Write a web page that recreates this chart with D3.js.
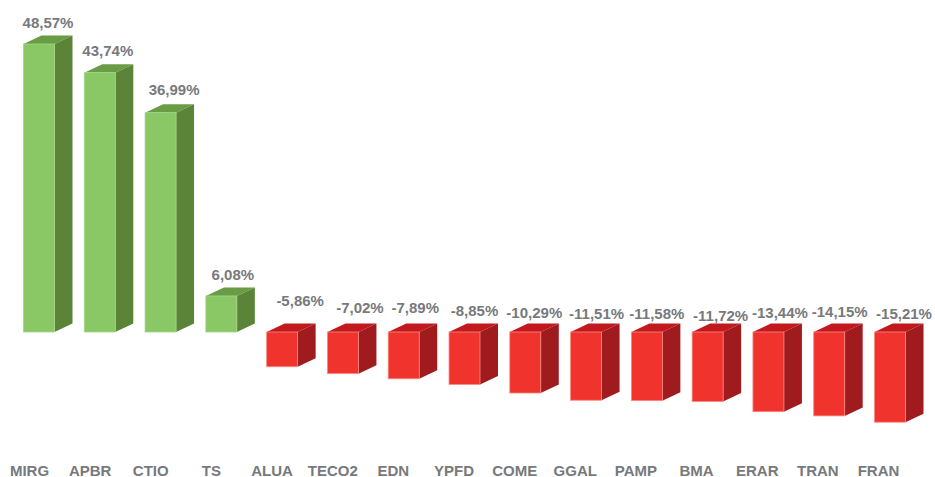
<!DOCTYPE html>
<html>
<head>
<meta charset="utf-8">
<script src="https://cdn.jsdelivr.net/npm/d3@7"></script>
<style>
  html, body { margin: 0; padding: 0; background: #fff; }
  svg { display: block; }
  text { font-family: "Liberation Sans", Arial, sans-serif; font-weight: bold; fill: #77797c; }
  .x-axis path, .x-axis line { display: none; }
</style>
</head>
<body>
<svg id="chart" width="935" height="477"></svg>
<script>
const tickers = ['MIRG', 'APBR', 'CTIO', 'TS', 'ALUA', 'TECO2', 'EDN', 'YPFD', 'COME', 'GGAL', 'PAMP', 'BMA', 'ERAR', 'TRAN', 'FRAN'];
const changes = [48.57, 43.74, 36.99, 6.08, -5.86, -7.02, -7.89, -8.85, -10.29, -11.51, -11.58, -11.72, -13.44, -14.15, -15.21];

// labels were placed by hand in the original, so nudge them [dx, dy] from the default spot
const labelNudge = [[0, 0.5], [-1, 0.5], [4.5, -0.5], [2.5, 1], [9, 0], [8, 6.5], [2.5, 6.5], [1, 10], [0, 12], [1.5, 13], [1, 13], [4, 15], [2.5, 12], [1.5, 11], [5, 13]];

const depthX = 18;
const depthY = 8.5;
const colors = {
    up: { front: '#8ac765', side: '#5c8439', top: '#699c45', edge: '#a5d68a' },
    down: { front: '#f0332c', side: '#a01b1e', top: '#c2191f', edge: '#f88a84' }
};

const svg = d3.select('#chart');

// scales
const x = d3.scaleBand()
    .domain(tickers)
    .range([23.5, 905.5])
    .paddingInner(0.49)
    .paddingOuter(0);

const y = d3.scaleLinear()
    .domain([0, 48.57])
    .range([332, 44]);

// tick labels sit left of the bars, so they get their own scale
const xLabels = d3.scalePoint()
    .domain(tickers)
    .range([29, 878]);

const rows = tickers.map((name, i) => ({ name, value: changes[i], nudge: labelNudge[i] }));
const tone = d => d.value >= 0 ? colors.up : colors.down;

function box(d) {
    const x0 = x(d.name);
    const x1 = x0 + x.bandwidth();
    const top = Math.min(y(d.value), y(0));
    const bottom = Math.max(y(d.value), y(0));
    return { x0, x1, top, bottom };
}

const bars = svg.selectAll('.bar')
    .data(rows)
    .join('g')
    .attr('class', 'bar');

// top face
bars.append('polygon')
    .attr('fill', d => tone(d).top)
    .attr('points', d => {
        const b = box(d);
        return [[b.x0, b.top], [b.x0 + depthX, b.top - depthY], [b.x1 + depthX, b.top - depthY], [b.x1, b.top]].join(' ');
    });

// side face
bars.append('polygon')
    .attr('fill', d => tone(d).side)
    .attr('points', d => {
        const b = box(d);
        return [[b.x1, b.top], [b.x1 + depthX, b.top - depthY], [b.x1 + depthX, b.bottom - depthY], [b.x1, b.bottom]].join(' ');
    });

// front face
bars.append('rect')
    .attr('x', d => box(d).x0)
    .attr('y', d => box(d).top)
    .attr('width', x.bandwidth())
    .attr('height', d => box(d).bottom - box(d).top)
    .attr('fill', d => tone(d).front)
    .attr('stroke', d => tone(d).edge)
    .attr('stroke-width', 0.8);

// value labels
svg.selectAll('.value')
    .data(rows)
    .join('text')
    .attr('class', 'value')
    .attr('text-anchor', 'middle')
    .attr('font-size', 15)
    .attr('x', d => box(d).x0 + x.bandwidth() / 2 + depthX / 2 + d.nudge[0])
    .attr('y', d => {
        // negative labels all start from one line just above the zero level
        const base = d.value >= 0 ? y(d.value) - depthY - 8.5 : 306;
        return base + d.nudge[1];
    })
    .text(d => d.value.toFixed(2).replace('.', ',') + '%');

// category axis
svg.append('g')
    .attr('class', 'x-axis')
    .attr('transform', 'translate(0,465.5)')
    .call(d3.axisBottom(xLabels).tickSize(0).tickPadding(0))
    .call(g => g.selectAll('text')
        .attr('dy', '0.71em')
        .style('font-size', '15px')
        .style('font-family', '"Liberation Sans", Arial, sans-serif'));
</script>
</body>
</html>
